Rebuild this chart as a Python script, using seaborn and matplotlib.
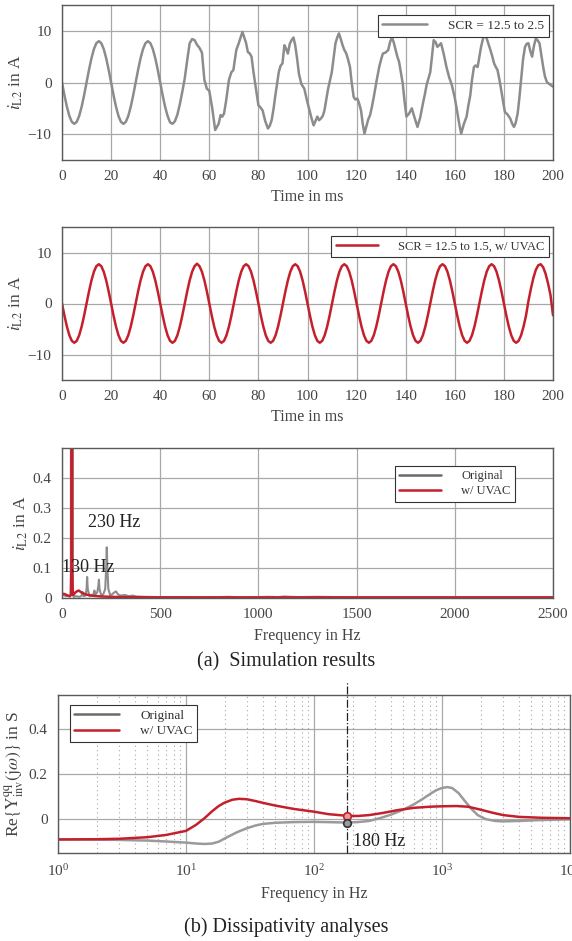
import numpy as np
import pandas as pd
import matplotlib
matplotlib.use("Agg")
import matplotlib.pyplot as plt
from matplotlib.lines import Line2D
from matplotlib.ticker import LogLocator, NullFormatter
import seaborn as sns

sns.set_style("white")
plt.rcParams["font.family"] = ["Liberation Serif", "DejaVu Serif"]
plt.rcParams["mathtext.fontset"] = "stix"

# ---------------- data ----------------
# (a) top: inductor current, SCR 12.5 -> 2.5 (time in ms, current in A)
t_orig = [0, 1, 2, 3, 4, 5, 6, 7, 8, 9, 10, 11, 12, 13, 14, 15, 16, 17, 18, 19,
          20, 21, 22, 23, 24, 25, 26, 27, 28, 29, 30, 31, 32, 33, 34, 35, 36, 37, 38, 39,
          40, 41, 42, 43, 44, 45, 46, 47, 48, 49, 50, 51, 52, 53, 54, 55, 56, 57, 58, 59,
          60, 61.2, 62.4, 63.8, 64.6, 65.3, 66.0, 66.8, 68.0, 69.0, 69.8, 71.0, 72.0, 72.8,
          73.5, 74.2, 75.0, 75.7, 76.5, 77.2, 78.0, 78.7, 80.0, 80.8, 81.7, 82.8, 83.9, 84.6,
          85.4, 86.2, 86.9, 88.3, 89.0, 89.8, 90.6, 91.3, 92.0, 92.8, 93.5, 94.3, 95.0, 95.8,
          96.5, 97.5, 98.7, 99.8, 101.0, 101.8, 102.5, 103.2, 104.0, 104.7, 105.4, 106.2,
          106.9, 107.7, 108.4, 109.2, 109.9, 110.7, 111.4, 112.1, 112.8, 113.5, 114.3, 115.0,
          115.8, 116.5, 117.3, 118.0, 118.8, 119.5, 120.3, 121.0, 121.8, 122.5, 123.2, 124.0,
          124.7, 125.5, 126.2, 127.0, 128.1, 129.2, 130.0, 130.7, 131.8, 132.9, 133.6, 134.4,
          135.1, 135.9, 136.6, 137.3, 138.0, 138.8, 139.5, 140.3, 141.4, 142.5, 143.6, 144.8,
          145.9, 147.0, 147.8, 148.5, 149.3, 150.0, 150.7, 151.4, 152.2, 152.9, 153.6, 154.4,
          155.5, 156.6, 157.7, 158.8, 160.0, 161.0, 161.8, 162.6, 163.7, 164.8, 165.5, 166.3,
          167.0, 167.8, 168.5, 169.3, 170.0, 170.7, 171.5, 172.2, 173.0, 173.7, 174.5, 175.3,
          176.0, 176.7, 177.4, 178.2, 178.9, 179.6, 180.4, 181.5, 182.6, 183.4, 184.1, 184.8,
          185.6, 186.3, 187.1, 187.8, 188.6, 189.3, 190.0, 190.8, 191.5, 192.2, 193.0, 193.7,
          194.5, 195.2, 196.0, 196.7, 197.5, 198.5, 200.0]
i_orig = [0, -2.47, -4.70, -6.47, -7.61, -8.0, -7.61, -6.47, -4.70, -2.47,
          0, 2.47, 4.70, 6.47, 7.61, 8.0, 7.61, 6.47, 4.70, 2.47,
          0, -2.47, -4.70, -6.47, -7.61, -8.0, -7.61, -6.47, -4.70, -2.47,
          0, 2.47, 4.70, 6.47, 7.61, 8.0, 7.61, 6.47, 4.70, 2.47,
          0, -2.47, -4.70, -6.47, -7.7, -8.0, -7.5, -6.2, -4.2, -1.8,
          0.8, 4.3, 7.6, 8.4, 8.2, 7.3, 6.7, 5.8, 0.5, -1.2,
          -1.6, -5.0, -9.2, -8.0, -6.3, -6.6, -6.0, -3.7, 0.5, 2.0, 2.4, 6.3, 7.6, 8.8,
          9.8, 8.8, 7.6, 5.9, 5.6, 5.0, 2.0, -0.2, -4.4, -4.8, -5.4, -7.5, -8.9, -8.4,
          -7.3, -5.0, -2.5, 2.0, 3.2, 3.7, 7.2, 6.5, 5.6, 7.5, 8.2, 8.7, 7.2, 4.5,
          1.7, -0.3, -1.2, -3.5, -5.7, -7.2, -8.3, -7.5, -6.6, -7.3, -7.0, -6.5,
          -5.4, -3.2, -1.2, 0.5, 2.0, 5.0, 7.6, 8.7, 9.5, 8.5, 7.2, 6.3,
          5.6, 4.5, 3.0, 0.0, -2.8, -3.3, -3.1, -4.0, -5.4, -8.0, -9.9, -8.5,
          -7.2, -6.3, -4.8, -2.8, 0.2, 3.0, 4.5, 5.6, 5.8, 6.3, 7.8, 8.7,
          7.8, 6.3, 5.0, 4.0, 2.0, -0.2, -3.5, -6.6, -6.0, -5.0, -6.8, -8.6,
          -6.8, -4.1, -2.3, -0.5, 0.8, 2.0, 5.0, 8.2, 7.8, 6.9, 7.2, 7.6,
          5.5, 3.0, 1.0, -0.5, -3.0, -5.7, -8.0, -9.9, -8.0, -6.6, -4.5, -2.5,
          0.5, 3.0, 3.3, 3.0, 5.0, 6.9, 8.5, 9.5, 8.5, 7.5, 6.3, 5.0,
          3.7, 3.0, 2.4, 0.5, -1.5, -3.5, -5.7, -6.2, -7.0, -8.0, -8.6, -7.8,
          -6.0, -3.0, 1.1, 4.5, 6.9, 7.5, 7.6, 6.0, 5.0, 7.0, 8.5, 8.2,
          7.6, 5.5, 3.0, 1.2, 0.1, -0.3, -0.8]

# (a) middle: inductor current, SCR 12.5 -> 1.5 with UVAC, 1 ms steps
t_uvac = list(range(0, 201))
i_uvac = [
    0, -2.38, -4.53, -6.23, -7.32, -7.7, -7.32, -6.23, -4.53, -2.38,
    0, 2.38, 4.53, 6.23, 7.32, 7.7, 7.32, 6.23, 4.53, 2.38,
    0, -2.38, -4.53, -6.23, -7.32, -7.7, -7.32, -6.23, -4.53, -2.38,
    0, 2.38, 4.53, 6.23, 7.32, 7.7, 7.32, 6.23, 4.53, 2.38,
    0, -2.38, -4.53, -6.23, -7.32, -7.7, -7.32, -6.23, -4.53, -2.38,
    0, 2.38, 4.53, 6.23, 7.32, 7.8, 7.32, 6.23, 4.53, 2.38,
    0, -2.38, -4.53, -6.23, -7.32, -7.7, -7.32, -6.23, -4.53, -2.38,
    0, 2.38, 4.53, 6.23, 7.32, 7.7, 7.32, 6.23, 4.53, 2.38,
    0, -2.38, -4.53, -6.23, -7.32, -7.7, -7.32, -6.23, -4.53, -2.38,
    0, 2.38, 4.53, 6.23, 7.32, 7.7, 7.32, 6.23, 4.53, 2.38,
    0, -2.38, -4.53, -6.23, -7.32, -7.7, -7.32, -6.23, -4.53, -2.38,
    0, 2.38, 4.53, 6.23, 7.32, 7.7, 7.32, 6.23, 4.53, 2.38,
    0, -2.38, -4.53, -6.23, -7.32, -7.7, -7.32, -6.23, -4.53, -2.38,
    0, 2.38, 4.53, 6.23, 7.32, 7.7, 7.32, 6.23, 4.53, 2.38,
    0, -2.38, -4.53, -6.23, -7.32, -7.7, -7.32, -6.23, -4.53, -2.38,
    0, 2.38, 4.53, 6.23, 7.32, 7.7, 7.32, 6.23, 4.53, 2.38,
    0, -2.38, -4.53, -6.23, -7.32, -7.7, -7.32, -6.23, -4.53, -2.38,
    0, 2.38, 4.53, 6.23, 7.32, 7.7, 7.32, 6.23, 4.53, 2.38,
    0, -2.38, -4.53, -6.23, -7.32, -7.7, -7.32, -6.23, -4.53, -2.38,
    0.5, 2.9, 5.0, 6.6, 7.5, 7.7, 7.1, 5.8, 3.9, 1.6,
    -2.3]

# (a) bottom: current spectrum (Hz, A)
f_spec_orig = [0, 10, 20, 30, 40, 45, 50, 55, 60, 70, 80, 90, 100, 105, 110, 120,
               125, 128, 131, 140, 150, 160, 165, 170, 180, 185, 188, 191, 200, 210,
               220, 225, 228, 231, 236, 245, 255, 265, 275, 285, 300, 320, 340, 360,
               380, 420, 500, 600, 700, 800, 850, 900, 1000, 1050, 1100, 1130, 1200,
               1300, 1400, 1500, 2000, 2500]
a_spec_orig = [0.008, 0.010, 0.006, 0.008, 0.005, 0.010, 8.0, 0.010, 0.004, 0.006,
               0.005, 0.004, 0.008, 0.020, 0.006, 0.008, 0.030, 0.070, 0.030, 0.006,
               0.010, 0.012, 0.025, 0.012, 0.020, 0.040, 0.061, 0.030, 0.008, 0.012,
               0.030, 0.100, 0.169, 0.100, 0.030, 0.010, 0.012, 0.018, 0.022, 0.012,
               0.008, 0.010, 0.006, 0.008, 0.005, 0.004, 0.003, 0.003, 0.002, 0.003,
               0.004, 0.002, 0.003, 0.004, 0.003, 0.005, 0.003, 0.004, 0.003, 0.002,
               0.002, 0.002]
f_spec_uvac = [0, 10, 20, 30, 40, 45, 48, 50, 52, 55, 60, 70, 85, 100, 120, 150,
               200, 300, 500, 1000, 2500]
a_spec_uvac = [0.012, 0.014, 0.011, 0.008, 0.006, 0.010, 0.10, 7.7, 0.10, 0.010,
               0.012, 0.020, 0.025, 0.018, 0.012, 0.008, 0.005, 0.003, 0.002,
               0.002, 0.002]

# (b) real part of inverter admittance (Hz, S)
f_adm_orig = [1, 2, 3, 5, 7, 10, 12, 14, 16, 18, 20, 25, 30, 35, 40, 50, 70, 100,
              150, 180, 220, 270, 330, 400, 500, 600, 700, 800, 900, 1000, 1100,
              1200, 1350, 1500, 1700, 1900, 2200, 2600, 3000, 4000, 6000, 10000]
y_adm_orig = [-0.090, -0.091, -0.092, -0.095, -0.099, -0.104, -0.108, -0.110,
              -0.108, -0.100, -0.086, -0.058, -0.040, -0.028, -0.021, -0.016,
              -0.013, -0.012, -0.014, -0.015, -0.013, -0.008, 0.005, 0.020, 0.042,
              0.065, 0.088, 0.110, 0.128, 0.138, 0.142, 0.138, 0.115, 0.082, 0.045,
              0.018, 0.000, -0.008, -0.010, -0.008, -0.004, -0.001]
f_adm_uvac = [1, 2, 3, 5, 7, 10, 12, 14, 16, 18, 20, 23, 26, 30, 35, 40, 50, 70,
              100, 130, 180, 220, 270, 350, 450, 600, 800, 1000, 1300, 1600, 2000,
              2500, 3000, 4000, 6000, 10000]
y_adm_uvac = [-0.090, -0.089, -0.087, -0.080, -0.070, -0.052, -0.025, 0.005,
              0.035, 0.058, 0.073, 0.086, 0.090, 0.088, 0.080, 0.072, 0.060, 0.045,
              0.033, 0.022, 0.015, 0.014, 0.018, 0.028, 0.040, 0.050, 0.055, 0.057,
              0.058, 0.055, 0.042, 0.028, 0.018, 0.010, 0.006, 0.004]

f_mark = 180
mark_orig = -0.015
mark_uvac = 0.015

# ---------------- styling ----------------
GRAY = "#8c8c8c"
GRAY_DARK = "#6a6a6a"
RED = "#c4202c"
GRID = "#a8a8a8"
SPINE = "#5a5a5a"
TXT = "#444444"

W, H = 572, 941
fig = plt.figure(figsize=(W / 100, H / 100), dpi=100)


def box(l, t, r, b):
    return [l / W, 1 - b / H, (r - l) / W, (b - t) / H]


def style_axes(ax):
    for s in ax.spines.values():
        s.set_color(SPINE)
        s.set_linewidth(1.0)
    ax.tick_params(axis="both", which="both", colors=SPINE, labelcolor=TXT,
                   labelsize=11, length=3, width=0.8, direction="out", pad=4.5)
    ax.grid(True, which="major", color=GRID, linewidth=0.9)
    ax.set_axisbelow(True)


def leg(ax, handles, labels, fs, **kw):
    lg = ax.legend(handles, labels, fontsize=fs, frameon=True, fancybox=False,
                   framealpha=1, edgecolor="#333333", handlelength=3.4,
                   borderpad=0.35, labelspacing=0.25, handletextpad=1.6,
                   borderaxespad=0, **kw)
    lg.get_frame().set_linewidth(0.8)
    for t in lg.get_texts():
        t.set_color("#333333")
    return lg


ylab_i = r"$i_{\mathrm{L2}}$ in A"

# ---- panel 1 ----
ax1 = fig.add_axes(box(62, 5, 553, 160))
sns.lineplot(x=t_orig, y=i_orig, ax=ax1, color=GRAY, linewidth=1.8, sort=False,
             estimator=None)
ax1.set_xlim(0, 200)
ax1.set_ylim(-15, 15)
ax1.set_xticks(range(0, 201, 20))
ax1.set_yticks([-10, 0, 10])
ax1.set_yticklabels(["\u221210", "0", "10"])
ax1.set_xlabel("Time in ms", fontsize=11.5, color=TXT, labelpad=4)
ax1.set_ylabel(ylab_i, fontsize=12.5, color=TXT, labelpad=2)
style_axes(ax1)
leg(ax1, [Line2D([], [], color=GRAY, lw=1.8)], ["SCR = 12.5 to 2.5"], 9.5,
    loc="upper right", bbox_to_anchor=(0.992, 0.935))

# ---- panel 2 ----
ax2 = fig.add_axes(box(62, 227, 553, 380))
sns.lineplot(x=t_uvac, y=i_uvac, ax=ax2, color=RED, linewidth=1.8, sort=False,
             estimator=None)
ax2.set_xlim(0, 200)
ax2.set_ylim(-15, 15)
ax2.set_xticks(range(0, 201, 20))
ax2.set_yticks([-10, 0, 10])
ax2.set_yticklabels(["\u221210", "0", "10"])
ax2.set_xlabel("Time in ms", fontsize=11.5, color=TXT, labelpad=4)
ax2.set_ylabel(ylab_i, fontsize=12.5, color=TXT, labelpad=2)
style_axes(ax2)
leg(ax2, [Line2D([], [], color=RED, lw=1.8)], ["SCR = 12.5 to 1.5, w/ UVAC"], 9.0,
    loc="upper right", bbox_to_anchor=(0.992, 0.941))

# ---- panel 3 ----
ax3 = fig.add_axes(box(62, 448, 553, 598))
sns.lineplot(x=f_spec_orig, y=a_spec_orig, ax=ax3, color=GRAY, linewidth=1.5,
             sort=False, estimator=None)
sns.lineplot(x=f_spec_uvac, y=a_spec_uvac, ax=ax3, color=RED, linewidth=1.8,
             sort=False, estimator=None)
ax3.set_xlim(0, 2500)
ax3.set_ylim(0, 0.5)
ax3.set_xticks(range(0, 2501, 500))
ax3.set_yticks([0, 0.1, 0.2, 0.3, 0.4])
ax3.set_yticklabels(["0", "0.1", "0.2", "0.3", "0.4"])
ax3.set_xlabel("Frequency in Hz", fontsize=11.5, color=TXT, labelpad=5)
ax3.set_ylabel(ylab_i, fontsize=12.5, color=TXT, labelpad=2)
style_axes(ax3)
ax3.text(132, 0.253, "230 Hz", fontsize=13, color="#222222", va="center", ha="left")
ax3.text(0, 0.1, "130 Hz", fontsize=13, color="#222222", va="center", ha="left")
leg(ax3, [Line2D([], [], color=GRAY_DARK, lw=1.8), Line2D([], [], color=RED, lw=1.8)],
    ["Original", "w/ UVAC"], 9.0, loc="upper right", bbox_to_anchor=(0.923, 0.88))
fig.text(0.5, 1 - 662 / H, "(a)  Simulation results", fontsize=14.5, color="#222222",
         ha="center", va="center")

# ---- panel 4 ----
ax4 = fig.add_axes(box(58, 695, 570, 853))
sns.lineplot(x=f_adm_orig, y=y_adm_orig, ax=ax4, color="#9a9a9a", linewidth=1.8,
             sort=False, estimator=None)
sns.lineplot(x=f_adm_uvac, y=y_adm_uvac, ax=ax4, color=RED, linewidth=1.8,
             sort=False, estimator=None)
ax4.set_xscale("log")
ax4.set_xlim(1, 1e4)
ax4.set_ylim(-0.15, 0.55)
ax4.set_yticks([0, 0.2, 0.4])
ax4.set_yticklabels(["0", "0.2", "0.4"])
ax4.xaxis.set_major_locator(LogLocator(base=10, numticks=10))
ax4.xaxis.set_minor_locator(LogLocator(base=10, subs=np.arange(2, 10), numticks=50))
ax4.xaxis.set_minor_formatter(NullFormatter())
style_axes(ax4)
ax4.tick_params(axis="x", which="minor", length=2)
ax4.grid(True, which="minor", axis="x", color=GRID, linewidth=0.8, linestyle=(0, (1, 3)))
ax4.axvline(f_mark, color="#222222", linewidth=0.9, linestyle="-.", ymin=0, ymax=1.08,
            clip_on=False, zorder=5)
ax4.scatter([f_mark], [mark_uvac], s=30, facecolor="#e99a9a", edgecolor=RED,
            linewidth=1.2, zorder=6)
ax4.scatter([f_mark], [mark_orig], s=30, facecolor="#9a9a9a", edgecolor="#333333",
            linewidth=1.2, zorder=6)
ax4.text(200, -0.097, "180 Hz", fontsize=13, color="#222222", va="center", ha="left")
ax4.set_xlabel("Frequency in Hz", fontsize=11.5, color=TXT, labelpad=5)
ax4.set_ylabel(r"Re$\{\mathrm{Y}^{\mathrm{qq}}_{\mathrm{inv}}(\mathrm{j}\omega)\}$ in S",
               fontsize=12.5, color=TXT, labelpad=2)
leg(ax4, [Line2D([], [], color=GRAY_DARK, lw=1.8), Line2D([], [], color=RED, lw=1.8)],
    ["Original", "w/ UVAC"], 9.5, loc="upper left", bbox_to_anchor=(0.023, 0.937))
fig.text(0.5, 1 - 927 / H, "(b) Dissipativity analyses", fontsize=14.5,
         color="#222222", ha="center", va="center")

fig.savefig("out.png", dpi=100)
